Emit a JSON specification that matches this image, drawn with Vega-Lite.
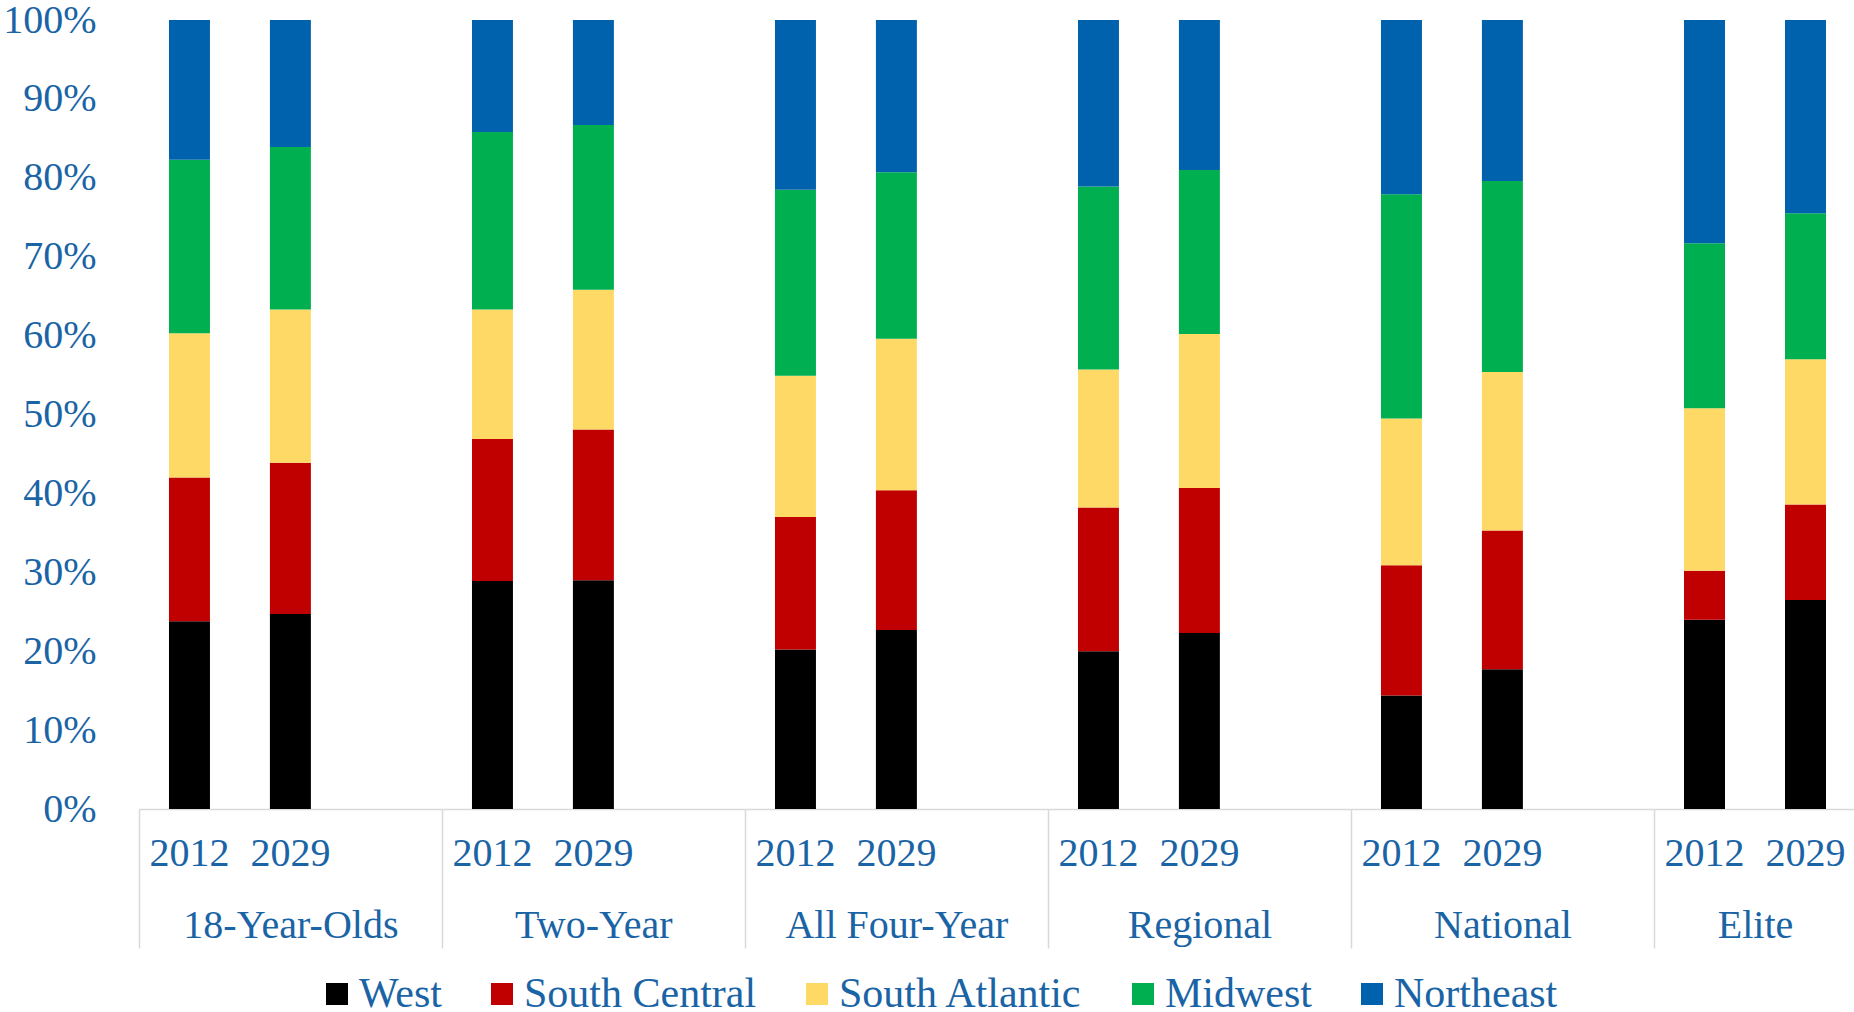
{
  "$schema": "https://vega.github.io/schema/vega-lite/v6.json",
  "autosize": {"type": "pad"},
  "padding": {"left": 2, "top": 0, "right": 0, "bottom": 0},
  "background": "white",
  "spacing": 0,
  "bounds": "flush",
  "config": {
    "view": {"stroke": null},
    "font": "Liberation Serif",
    "axis": {"grid": false}
  },
  "datasets": {
    "stacking": [
      {"region": "West", "rank": 1},
      {"region": "South Central", "rank": 2},
      {"region": "South Atlantic", "rank": 3},
      {"region": "Midwest", "rank": 4},
      {"region": "Northeast", "rank": 5}
    ]
  },
  "data": {"values": [
    {"group": "18-Year-Olds", "year": "2012", "region": "West", "share": 23.8},
    {"group": "18-Year-Olds", "year": "2012", "region": "South Central", "share": 18.2},
    {"group": "18-Year-Olds", "year": "2012", "region": "South Atlantic", "share": 18.3},
    {"group": "18-Year-Olds", "year": "2012", "region": "Midwest", "share": 22.0},
    {"group": "18-Year-Olds", "year": "2012", "region": "Northeast", "share": 17.7},
    {"group": "18-Year-Olds", "year": "2029", "region": "West", "share": 24.7},
    {"group": "18-Year-Olds", "year": "2029", "region": "South Central", "share": 19.2},
    {"group": "18-Year-Olds", "year": "2029", "region": "South Atlantic", "share": 19.4},
    {"group": "18-Year-Olds", "year": "2029", "region": "Midwest", "share": 20.6},
    {"group": "18-Year-Olds", "year": "2029", "region": "Northeast", "share": 16.1},
    {"group": "Two-Year", "year": "2012", "region": "West", "share": 28.9},
    {"group": "Two-Year", "year": "2012", "region": "South Central", "share": 18.0},
    {"group": "Two-Year", "year": "2012", "region": "South Atlantic", "share": 16.4},
    {"group": "Two-Year", "year": "2012", "region": "Midwest", "share": 22.5},
    {"group": "Two-Year", "year": "2012", "region": "Northeast", "share": 14.2},
    {"group": "Two-Year", "year": "2029", "region": "West", "share": 29.0},
    {"group": "Two-Year", "year": "2029", "region": "South Central", "share": 19.1},
    {"group": "Two-Year", "year": "2029", "region": "South Atlantic", "share": 17.7},
    {"group": "Two-Year", "year": "2029", "region": "Midwest", "share": 20.9},
    {"group": "Two-Year", "year": "2029", "region": "Northeast", "share": 13.3},
    {"group": "All Four-Year", "year": "2012", "region": "West", "share": 20.2},
    {"group": "All Four-Year", "year": "2012", "region": "South Central", "share": 16.8},
    {"group": "All Four-Year", "year": "2012", "region": "South Atlantic", "share": 17.9},
    {"group": "All Four-Year", "year": "2012", "region": "Midwest", "share": 23.6},
    {"group": "All Four-Year", "year": "2012", "region": "Northeast", "share": 21.5},
    {"group": "All Four-Year", "year": "2029", "region": "West", "share": 22.7},
    {"group": "All Four-Year", "year": "2029", "region": "South Central", "share": 17.7},
    {"group": "All Four-Year", "year": "2029", "region": "South Atlantic", "share": 19.2},
    {"group": "All Four-Year", "year": "2029", "region": "Midwest", "share": 21.1},
    {"group": "All Four-Year", "year": "2029", "region": "Northeast", "share": 19.3},
    {"group": "Regional", "year": "2012", "region": "West", "share": 20.0},
    {"group": "Regional", "year": "2012", "region": "South Central", "share": 18.2},
    {"group": "Regional", "year": "2012", "region": "South Atlantic", "share": 17.5},
    {"group": "Regional", "year": "2012", "region": "Midwest", "share": 23.2},
    {"group": "Regional", "year": "2012", "region": "Northeast", "share": 21.1},
    {"group": "Regional", "year": "2029", "region": "West", "share": 22.3},
    {"group": "Regional", "year": "2029", "region": "South Central", "share": 18.4},
    {"group": "Regional", "year": "2029", "region": "South Atlantic", "share": 19.5},
    {"group": "Regional", "year": "2029", "region": "Midwest", "share": 20.8},
    {"group": "Regional", "year": "2029", "region": "Northeast", "share": 19.0},
    {"group": "National", "year": "2012", "region": "West", "share": 14.4},
    {"group": "National", "year": "2012", "region": "South Central", "share": 16.5},
    {"group": "National", "year": "2012", "region": "South Atlantic", "share": 18.6},
    {"group": "National", "year": "2012", "region": "Midwest", "share": 28.4},
    {"group": "National", "year": "2012", "region": "Northeast", "share": 22.1},
    {"group": "National", "year": "2029", "region": "West", "share": 17.7},
    {"group": "National", "year": "2029", "region": "South Central", "share": 17.6},
    {"group": "National", "year": "2029", "region": "South Atlantic", "share": 20.1},
    {"group": "National", "year": "2029", "region": "Midwest", "share": 24.2},
    {"group": "National", "year": "2029", "region": "Northeast", "share": 20.4},
    {"group": "Elite", "year": "2012", "region": "West", "share": 24.0},
    {"group": "Elite", "year": "2012", "region": "South Central", "share": 6.2},
    {"group": "Elite", "year": "2012", "region": "South Atlantic", "share": 20.6},
    {"group": "Elite", "year": "2012", "region": "Midwest", "share": 20.9},
    {"group": "Elite", "year": "2012", "region": "Northeast", "share": 28.3},
    {"group": "Elite", "year": "2029", "region": "West", "share": 26.5},
    {"group": "Elite", "year": "2029", "region": "South Central", "share": 12.1},
    {"group": "Elite", "year": "2029", "region": "South Atlantic", "share": 18.4},
    {"group": "Elite", "year": "2029", "region": "Midwest", "share": 18.5},
    {"group": "Elite", "year": "2029", "region": "Northeast", "share": 24.5}
  ]},
  "resolve": {"scale": {"x": "independent"}},
  "hconcat": [
    {
      "width": 302.8, "height": 789,
      "transform": [{"filter": {"field": "group", "equal": "18-Year-Olds"}}, {"lookup": "region", "from": {"data": {"name": "stacking"}, "key": "region", "fields": ["rank"]}}],
      "mark": {"type": "bar", "width": {"band": 0.406}},
      "encoding": {
        "x": {"field": "year", "type": "nominal", "scale": {"domain": ["2012", "2029", "gap"], "paddingInner": 0, "paddingOuter": 0},
          "axis": {"title": "18-Year-Olds", "labelExpr": "datum.value === 'gap' ? '' : datum.value", "labelAngle": 0, "labelFontSize": 40, "labelColor": "#1A64A6", "labelBaseline": "alphabetic", "labelPadding": -82.5, "domainColor": "#D9D9D9", "domainWidth": 1.5, "tickColor": "#D9D9D9", "tickWidth": 1.5, "tickSize": 139, "bandPosition": 0, "tickOpacity": {"condition": {"test": "datum.value === '2012'", "value": 1}, "value": 0}, "titleFontSize": 40, "titleFontWeight": "normal", "titleColor": "#1A64A6", "titleBaseline": "alphabetic", "titleY": 128}},
        "y": {"field": "share", "type": "quantitative", "stack": "normalize",
          "axis": {"title": null, "values": [0, 0.1, 0.2, 0.3, 0.4, 0.5, 0.6, 0.7, 0.8, 0.9, 1], "format": ".0%", "domain": false, "ticks": false, "labelPadding": 43, "labelFontSize": 40, "labelColor": "#1A64A6", "labelBaseline": "middle"}},
        "order": {"field": "rank", "type": "quantitative", "sort": "ascending"},
        "color": {"field": "region", "type": "nominal", "sort": ["West", "South Central", "South Atlantic", "Midwest", "Northeast"],
          "scale": {"domain": ["West", "South Central", "South Atlantic", "Midwest", "Northeast"], "range": ["#000000", "#C00000", "#FFD966", "#00B050", "#0062AC"]},
          "legend": {"orient": "none", "legendX": 177, "legendY": 953, "direction": "horizontal", "title": null, "symbolType": "square", "symbolSize": 484, "symbolStrokeWidth": 0, "labelFontSize": 42, "labelColor": "#1A64A6", "labelOffset": 1, "columnPadding": 39, "labelLimit": 0, "padding": 0}}
      }
    },
    {
      "width": 302.8, "height": 789,
      "transform": [{"filter": {"field": "group", "equal": "Two-Year"}}, {"lookup": "region", "from": {"data": {"name": "stacking"}, "key": "region", "fields": ["rank"]}}],
      "mark": {"type": "bar", "width": {"band": 0.406}},
      "encoding": {
        "x": {"field": "year", "type": "nominal", "scale": {"domain": ["2012", "2029", "gap"], "paddingInner": 0, "paddingOuter": 0},
          "axis": {"title": "Two-Year", "labelExpr": "datum.value === 'gap' ? '' : datum.value", "labelAngle": 0, "labelFontSize": 40, "labelColor": "#1A64A6", "labelBaseline": "alphabetic", "labelPadding": -82.5, "domainColor": "#D9D9D9", "domainWidth": 1.5, "tickColor": "#D9D9D9", "tickWidth": 1.5, "tickSize": 139, "bandPosition": 0, "tickOpacity": {"condition": {"test": "datum.value === '2012'", "value": 1}, "value": 0}, "titleFontSize": 40, "titleFontWeight": "normal", "titleColor": "#1A64A6", "titleBaseline": "alphabetic", "titleY": 128}},
        "y": {"field": "share", "type": "quantitative", "stack": "normalize", "axis": null},
        "order": {"field": "rank", "type": "quantitative", "sort": "ascending"},
        "color": {"field": "region", "type": "nominal", "sort": ["West", "South Central", "South Atlantic", "Midwest", "Northeast"],
          "scale": {"domain": ["West", "South Central", "South Atlantic", "Midwest", "Northeast"], "range": ["#000000", "#C00000", "#FFD966", "#00B050", "#0062AC"]}}
      }
    },
    {
      "width": 302.8, "height": 789,
      "transform": [{"filter": {"field": "group", "equal": "All Four-Year"}}, {"lookup": "region", "from": {"data": {"name": "stacking"}, "key": "region", "fields": ["rank"]}}],
      "mark": {"type": "bar", "width": {"band": 0.406}},
      "encoding": {
        "x": {"field": "year", "type": "nominal", "scale": {"domain": ["2012", "2029", "gap"], "paddingInner": 0, "paddingOuter": 0},
          "axis": {"title": "All Four-Year", "labelExpr": "datum.value === 'gap' ? '' : datum.value", "labelAngle": 0, "labelFontSize": 40, "labelColor": "#1A64A6", "labelBaseline": "alphabetic", "labelPadding": -82.5, "domainColor": "#D9D9D9", "domainWidth": 1.5, "tickColor": "#D9D9D9", "tickWidth": 1.5, "tickSize": 139, "bandPosition": 0, "tickOpacity": {"condition": {"test": "datum.value === '2012'", "value": 1}, "value": 0}, "titleFontSize": 40, "titleFontWeight": "normal", "titleColor": "#1A64A6", "titleBaseline": "alphabetic", "titleY": 128}},
        "y": {"field": "share", "type": "quantitative", "stack": "normalize", "axis": null},
        "order": {"field": "rank", "type": "quantitative", "sort": "ascending"},
        "color": {"field": "region", "type": "nominal", "sort": ["West", "South Central", "South Atlantic", "Midwest", "Northeast"],
          "scale": {"domain": ["West", "South Central", "South Atlantic", "Midwest", "Northeast"], "range": ["#000000", "#C00000", "#FFD966", "#00B050", "#0062AC"]}}
      }
    },
    {
      "width": 302.8, "height": 789,
      "transform": [{"filter": {"field": "group", "equal": "Regional"}}, {"lookup": "region", "from": {"data": {"name": "stacking"}, "key": "region", "fields": ["rank"]}}],
      "mark": {"type": "bar", "width": {"band": 0.406}},
      "encoding": {
        "x": {"field": "year", "type": "nominal", "scale": {"domain": ["2012", "2029", "gap"], "paddingInner": 0, "paddingOuter": 0},
          "axis": {"title": "Regional", "labelExpr": "datum.value === 'gap' ? '' : datum.value", "labelAngle": 0, "labelFontSize": 40, "labelColor": "#1A64A6", "labelBaseline": "alphabetic", "labelPadding": -82.5, "domainColor": "#D9D9D9", "domainWidth": 1.5, "tickColor": "#D9D9D9", "tickWidth": 1.5, "tickSize": 139, "bandPosition": 0, "tickOpacity": {"condition": {"test": "datum.value === '2012'", "value": 1}, "value": 0}, "titleFontSize": 40, "titleFontWeight": "normal", "titleColor": "#1A64A6", "titleBaseline": "alphabetic", "titleY": 128}},
        "y": {"field": "share", "type": "quantitative", "stack": "normalize", "axis": null},
        "order": {"field": "rank", "type": "quantitative", "sort": "ascending"},
        "color": {"field": "region", "type": "nominal", "sort": ["West", "South Central", "South Atlantic", "Midwest", "Northeast"],
          "scale": {"domain": ["West", "South Central", "South Atlantic", "Midwest", "Northeast"], "range": ["#000000", "#C00000", "#FFD966", "#00B050", "#0062AC"]}}
      }
    },
    {
      "width": 302.8, "height": 789,
      "transform": [{"filter": {"field": "group", "equal": "National"}}, {"lookup": "region", "from": {"data": {"name": "stacking"}, "key": "region", "fields": ["rank"]}}],
      "mark": {"type": "bar", "width": {"band": 0.406}},
      "encoding": {
        "x": {"field": "year", "type": "nominal", "scale": {"domain": ["2012", "2029", "gap"], "paddingInner": 0, "paddingOuter": 0},
          "axis": {"title": "National", "labelExpr": "datum.value === 'gap' ? '' : datum.value", "labelAngle": 0, "labelFontSize": 40, "labelColor": "#1A64A6", "labelBaseline": "alphabetic", "labelPadding": -82.5, "domainColor": "#D9D9D9", "domainWidth": 1.5, "tickColor": "#D9D9D9", "tickWidth": 1.5, "tickSize": 139, "bandPosition": 0, "tickOpacity": {"condition": {"test": "datum.value === '2012'", "value": 1}, "value": 0}, "titleFontSize": 40, "titleFontWeight": "normal", "titleColor": "#1A64A6", "titleBaseline": "alphabetic", "titleY": 128}},
        "y": {"field": "share", "type": "quantitative", "stack": "normalize", "axis": null},
        "order": {"field": "rank", "type": "quantitative", "sort": "ascending"},
        "color": {"field": "region", "type": "nominal", "sort": ["West", "South Central", "South Atlantic", "Midwest", "Northeast"],
          "scale": {"domain": ["West", "South Central", "South Atlantic", "Midwest", "Northeast"], "range": ["#000000", "#C00000", "#FFD966", "#00B050", "#0062AC"]}}
      }
    },
    {
      "width": 202, "height": 789,
      "transform": [{"filter": {"field": "group", "equal": "Elite"}}, {"lookup": "region", "from": {"data": {"name": "stacking"}, "key": "region", "fields": ["rank"]}}],
      "mark": {"type": "bar", "width": {"band": 0.406}},
      "encoding": {
        "x": {"field": "year", "type": "nominal", "scale": {"domain": ["2012", "2029"], "paddingInner": 0, "paddingOuter": 0},
          "axis": {"title": "Elite", "labelAngle": 0, "labelFontSize": 40, "labelColor": "#1A64A6", "labelBaseline": "alphabetic", "labelPadding": -82.5, "domainColor": "#D9D9D9", "domainWidth": 1.5, "tickColor": "#D9D9D9", "tickWidth": 1.5, "tickSize": 139, "bandPosition": 0, "tickOpacity": {"condition": {"test": "datum.value === '2012'", "value": 1}, "value": 0}, "titleFontSize": 40, "titleFontWeight": "normal", "titleColor": "#1A64A6", "titleBaseline": "alphabetic", "titleY": 128}},
        "y": {"field": "share", "type": "quantitative", "stack": "normalize", "axis": null},
        "order": {"field": "rank", "type": "quantitative", "sort": "ascending"},
        "color": {"field": "region", "type": "nominal", "sort": ["West", "South Central", "South Atlantic", "Midwest", "Northeast"],
          "scale": {"domain": ["West", "South Central", "South Atlantic", "Midwest", "Northeast"], "range": ["#000000", "#C00000", "#FFD966", "#00B050", "#0062AC"]}}
      }
    }
  ]
}
